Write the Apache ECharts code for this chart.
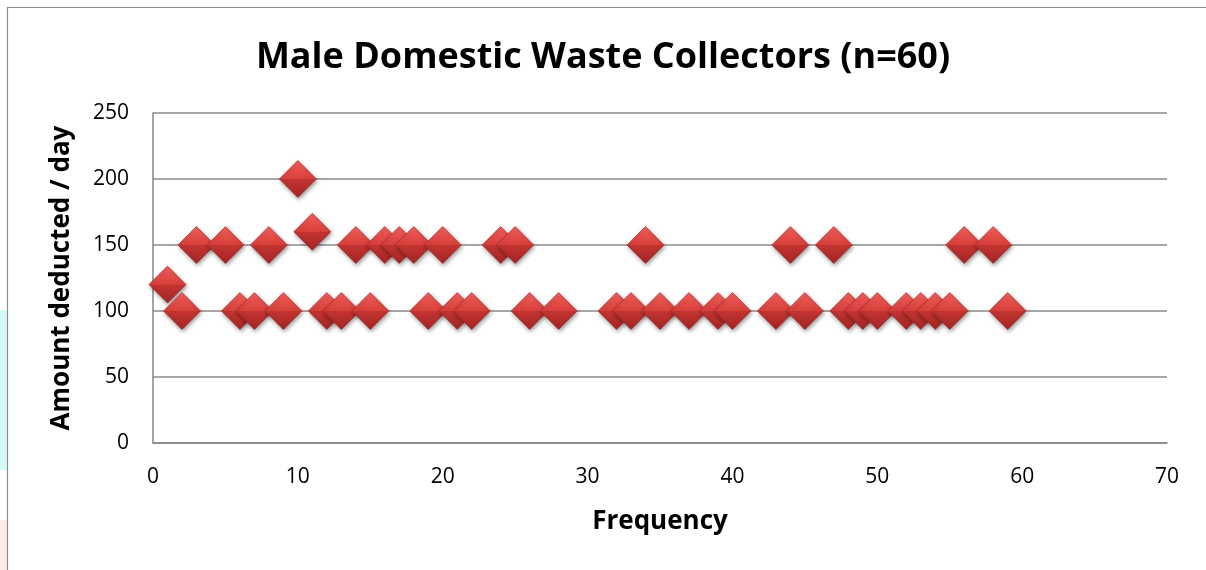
<!DOCTYPE html>
<html><head><meta charset="utf-8">
<script src="https://cdn.jsdelivr.net/npm/echarts@6/dist/echarts.min.js"></script>
<style>html,body{margin:0;padding:0;background:#fff}#c{width:1206px;height:570px}</style>
</head><body><div id="c"></div>
<script>
const titleText = 'Male Domestic Waste Collectors (n=60)';
const xAxisName = 'Frequency';
const yAxisName = 'Amount deducted / day';
const frequency = [1, 2, 3, 5, 6, 7, 8, 9, 10, 11, 12, 13, 14, 15, 16, 17, 18, 19, 20, 21, 22, 24, 25, 26, 28, 32, 33, 34, 35, 37, 39, 40, 43, 44, 45, 47, 48, 49, 50, 52, 53, 54, 55, 56, 58, 59];
const amount    = [120, 100, 150, 150, 100, 100, 150, 100, 200, 160, 100, 100, 150, 100, 150, 150, 150, 100, 150, 100, 100, 150, 150, 100, 100, 100, 100, 150, 100, 100, 100, 100, 100, 150, 100, 150, 100, 100, 100, 100, 100, 100, 100, 150, 150, 100];

const chart = echarts.init(document.getElementById('c'));
const font = '"Open Sans", "Liberation Sans", sans-serif';
chart.setOption({
  animation: false,
  backgroundColor: '#fff',
  graphic: [
    {type:'rect', shape:{x:0,y:310,width:7,height:160}, style:{fill:'#d4f8fa'}, z:0},
    {type:'rect', shape:{x:0,y:520,width:7,height:50}, style:{fill:'#fde8ea'}, z:0},
    {type:'rect', shape:{x:7.5,y:7.5,width:1250,height:700}, style:{fill:'none',stroke:'#8c8c8c',lineWidth:1.2}, z:0}
  ],
  title: {
    text: titleText, left: 'center', top: 35,
    textStyle: {fontFamily: font, fontWeight: 'bold', fontSize: 36, color: '#000'}
  },
  grid: {left: 153, top: 113, right: 39, bottom: 127},
  xAxis: {
    type: 'value', min: 0, max: 70, interval: 10,
    name: xAxisName, nameLocation: 'middle', nameGap: 66,
    nameTextStyle: {fontFamily: font, fontWeight: 'bold', fontSize: 26, color: '#000'},
    axisLine: {show: true, lineStyle: {color: '#868686', width: 1.5}},
    axisTick: {show: false},
    splitLine: {show: false},
    axisLabel: {fontFamily: font, fontSize: 21, color: '#000', margin: 24}
  },
  yAxis: {
    type: 'value', min: 0, max: 250, interval: 50,
    name: yAxisName, nameLocation: 'middle', nameGap: 78, nameRotate: 90,
    nameTextStyle: {fontFamily: font, fontWeight: 'bold', fontSize: 26, color: '#000'},
    axisLine: {show: true, lineStyle: {color: '#868686', width: 1.5}},
    axisTick: {show: false},
    splitLine: {show: true, lineStyle: {color: '#8a8a8a', width: 1.5}},
    axisLabel: {fontFamily: font, fontSize: 21, color: '#000', margin: 24}
  },
  series: [{
    type: 'scatter',
    symbol: 'diamond',
    symbolSize: [37, 37],
    data: frequency.map((f, i) => [f, amount[i]]),
    itemStyle: {
      opacity: 1,
      color: new echarts.graphic.LinearGradient(0, 0, 0, 1, [
        {offset: 0, color: '#f4605b'},
        {offset: 0.49, color: '#d8403c'},
        {offset: 0.51, color: '#c33431'},
        {offset: 1, color: '#a32523'}
      ]),
      borderColor: '#9e2422', borderWidth: 0.6,
      shadowColor: 'rgba(0,0,0,0.4)', shadowBlur: 4, shadowOffsetX: 1, shadowOffsetY: 2
    }
  }]
});
</script></body></html>
